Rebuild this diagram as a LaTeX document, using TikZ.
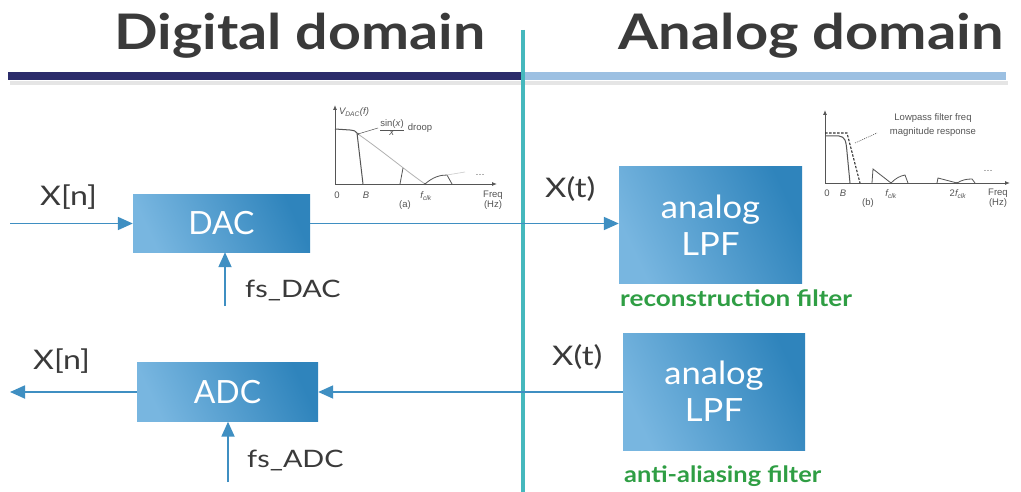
\documentclass[tikz,border=0pt]{standalone}
\usepackage{graphicx}
\usepackage{fontspec}
\setmainfont{Lato}
\newfontfamily\plotfont{Liberation Sans}
\usetikzlibrary{arrows.meta}
\newcommand{\hstretch}[2]{\scalebox{#1}[1]{#2}}
\definecolor{navy}{HTML}{2B2C6B}
\definecolor{lightline}{HTML}{9CC0E2}
\definecolor{teal}{HTML}{45B8BD}
\definecolor{wire}{HTML}{3F8FC2}
\definecolor{boxlight}{HTML}{78B6E0}
\definecolor{boxdark}{HTML}{2F84BC}
\definecolor{greentxt}{HTML}{2F9E44}
\definecolor{titletxt}{HTML}{3A3A3A}
\definecolor{plotgray}{HTML}{555555}
\tikzset{
  blk/.style={draw=none, shading=axis, left color=boxlight, right color=boxdark, shading angle=115,
    text=white, font=\fontsize{32}{37}\selectfont, align=center, inner sep=0pt},
  wirearrow/.style={draw=wire, line width=1.8pt, -{Triangle[length=15pt,width=13pt]}},
  lbl/.style={text=titletxt, font=\fontsize{27}{30}\selectfont, inner sep=0pt, anchor=base west},
  fslbl/.style={text=titletxt, font=\fontsize{24}{28}\selectfont, inner sep=0pt, anchor=base west},
  titlelbl/.style={text=titletxt, font=\fontsize{49}{52}\selectfont\bfseries, inner sep=0pt, anchor=base},
  greenlbl/.style={text=greentxt, font=\fontsize{22.5}{24}\selectfont\bfseries, inner sep=0pt, anchor=base west},
  ptxt/.style={text=plotgray, font=\plotfont\fontsize{9.5}{10}\selectfont, inner sep=0pt},
  pline/.style={draw=plotgray, line width=0.8pt},
  paxis/.style={draw=plotgray, line width=0.9pt, -{Latex[length=5pt,width=4pt]}}
}
\begin{document}
\begin{tikzpicture}[x=1pt,y=-1pt]
\useasboundingbox (0,0) rectangle (1021,492);
\fill[white] (0,0) rectangle (1021,492);

% titles
\node[titlelbl] (tdig) at (300,50) {\hstretch{1.17}{Digital domain}};
\node[titlelbl] (tana) at (811,50) {\hstretch{1.18}{Analog domain}};

% header lines
\draw[gray!20, line width=4pt] (10,83) -- (1008,83);
\draw[navy, line width=8pt] (8,76) -- (523,76);
\draw[lightline, line width=8pt] (523,76) -- (1006,76);
\draw[teal, line width=4pt] (523,30) -- (523,492);

% blocks
\node[blk, minimum width=177pt, minimum height=57pt] (dac) at (221.5,223.5) {DAC};
\node[blk, minimum width=181pt, minimum height=59pt] (adc) at (227.5,392) {ADC};
\node[blk, minimum width=183pt, minimum height=116pt] (lpf1) at (710.5,225) {\hstretch{1.08}{analog}\\\hstretch{1.08}{LPF}};
\node[blk, minimum width=182pt, minimum height=117pt] (lpf2) at (714,391.5) {\hstretch{1.08}{analog}\\\hstretch{1.08}{LPF}};

% coordinates for free ends
\coordinate (xin) at (10,223.5);
\coordinate (xout) at (10,392);
\coordinate (fsd) at (225,306);
\coordinate (fsa) at (228,482);

% connectors
\draw[wirearrow] (xin) -- (dac.west);
\draw[wirearrow] (dac.east) -- (dac.east -| lpf1.west);
\draw[wirearrow] (fsd) -- (fsd |- dac.south);
\draw[wirearrow] (lpf2.west |- adc.east) -- (adc.east);
\draw[wirearrow] (adc.west) -- (xout);
\draw[wirearrow] (fsa) -- (fsa |- adc.south);

% labels
\node[lbl] (l1) at (40,206) {\hstretch{1.19}{X[n]}};
\node[lbl] (l2) at (33,369) {\hstretch{1.19}{X[n]}};
\node[lbl] (l3) at (545,198) {\hstretch{1.22}{X(t)}};
\node[lbl] (l4) at (552,365) {\hstretch{1.22}{X(t)}};
\node[fslbl] (l5) at (245,297) {\hstretch{1.2}{fs\_DAC}};
\node[fslbl] (l6) at (247,467) {\hstretch{1.2}{fs\_ADC}};
\node[greenlbl] (g1) at (620,306) {\hstretch{1.16}{reconstruction filter}};
\node[greenlbl] (g2) at (624,482) {\hstretch{1.13}{anti-aliasing filter}};

% plot (a)
\coordinate (ao) at (335,184);
\draw[paxis] (ao) -- (497,184);
\draw[paxis] (ao) -- (335,105);
\draw[pline, line width=1pt] (335,129) -- (350,130) .. controls (354,130.5) and (356,131) .. (357,133) -- (363,184);
\draw[pline, draw=gray!60, line width=0.8pt] (358,134) .. controls (385,153) and (405,170) .. (425,184);
\draw[pline] (400,184) -- (403,168);
\draw[pline] (425,184) .. controls (433,177) and (440,175) .. (447,175) -- (452,184);
\draw[draw=gray!40, line width=0.6pt] (447,175) -- (465,172);
\fill[plotgray] (358,134) circle (1.2pt);
\fill[plotgray] (425,184) circle (1.2pt);
\draw[pline, line width=0.5pt] (358,134) -- (378,128);
\node[ptxt] (va) at (354,112) {\itshape V\textsubscript{DAC}(\itshape f)};
\node[ptxt, align=center] (sinc) at (392,128) {\underline{sin(\textit{x})}\\[-1pt]\textit{x}};
\node[ptxt] (droop) at (420,128) {droop};
\node[ptxt] (a0) at (337,195) {0};
\node[ptxt] (aB) at (366,195) {\itshape B};
\node[ptxt] (afc) at (426,196) {\itshape f\textsubscript{clk}};
\node[ptxt] (afr) at (493,195) {Freq};
\node[ptxt] (ahz) at (493,205) {(Hz)};
\node[ptxt] (acap) at (405,205) {(a)};
\node[ptxt] (adots) at (480,175) {\dots};

% plot (b)
\coordinate (bo) at (825,183);
\draw[paxis] (bo) -- (1010,183);
\draw[paxis] (bo) -- (825,110);
\draw[pline, line width=1pt] (825,136) -- (839,136) .. controls (845,137) and (846,140) .. (847,152) -- (850,183);
\draw[black!80, line width=1.1pt, dash pattern=on 2.5pt off 1.5pt] (825,133) -- (847,133) -- (860,183);
\draw[pline] (872,183) -- (873,169) -- (891,183) .. controls (896,178) and (900,176) .. (905,175) -- (908,183);
\draw[pline] (937,183) -- (938,178) -- (957,183) .. controls (962,180) and (966,179) .. (972,179) -- (975,183);
\fill[plotgray] (891,183) circle (1.2pt);
\fill[plotgray] (957,183) circle (1.2pt);
\draw[plotgray, line width=0.6pt, dash pattern=on 1pt off 1pt] (855,143) -- (877,133);
\node[ptxt] (bl1) at (933,118) {Lowpass filter freq};
\node[ptxt] (bl2) at (933,132) {magnitude response};
\node[ptxt] (b0) at (827,193) {0};
\node[ptxt] (bB) at (843,193) {\itshape B};
\node[ptxt] (bfc) at (891,194) {\itshape f\textsubscript{clk}};
\node[ptxt] (b2fc) at (958,194) {2\itshape f\textsubscript{clk}};
\node[ptxt] (bfr) at (998,193) {Freq};
\node[ptxt] (bhz) at (998,203) {(Hz)};
\node[ptxt] (bcap) at (868,203) {(b)};
\node[ptxt] (bdots) at (988,171) {\dots};
\end{tikzpicture}
\end{document}
